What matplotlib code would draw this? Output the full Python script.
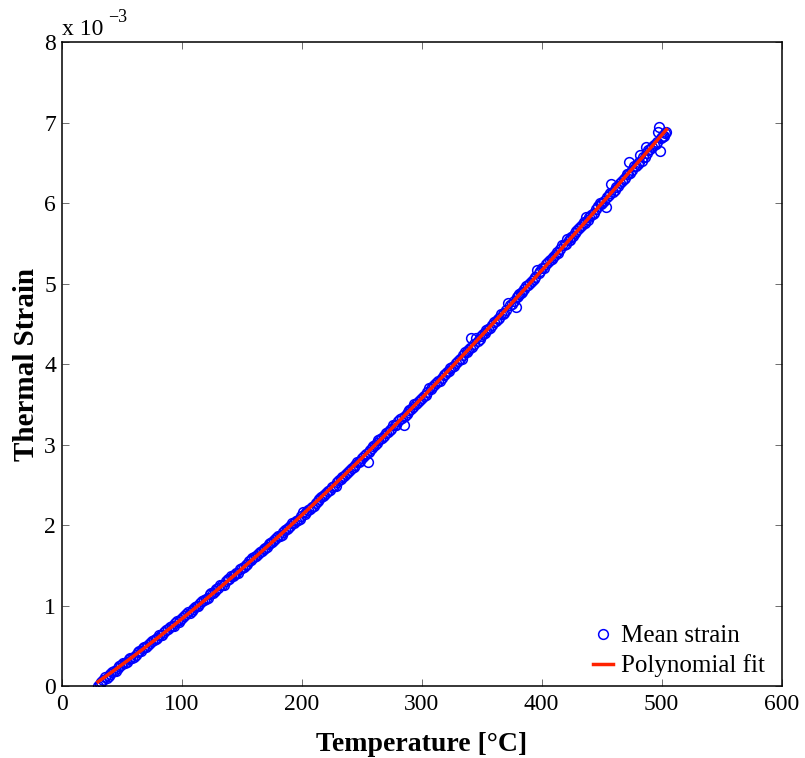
import numpy as np
import matplotlib
matplotlib.use("Agg")
import matplotlib.pyplot as plt

plt.rcParams['font.family'] = ['Liberation Serif', 'DejaVu Serif']
plt.rcParams['mathtext.default'] = 'regular'

# temperatura [°C] y deformacion termica media (en unidades de 1e-3)
# primera serie de lecturas
temperature_a = [
    30.3, 33.0, 36.2, 39.1, 42.0, 45.3, 48.1, 51.2, 54.4, 57.3,
    60.1, 63.4, 66.2, 69.0, 72.3, 75.1, 78.4, 81.2, 84.0, 87.3,
    90.1, 93.4, 96.2, 99.0, 102.3, 105.1, 108.4, 111.2, 114.0, 117.3,
    120.1, 123.4, 126.2, 129.0, 132.3, 135.1, 138.4, 141.2, 144.0, 147.3,
    150.1, 153.4, 156.2, 159.0, 162.3, 165.1, 168.4, 171.2, 174.0, 177.3,
    180.1, 183.4, 186.2, 189.0, 192.3, 195.1, 198.4, 201.2, 204.0, 207.3,
    210.1, 213.4, 216.2, 219.0, 222.3, 225.1, 228.4, 231.2, 234.0, 237.3,
    240.1, 243.4, 246.2, 249.0, 252.3, 255.1, 257.0, 258.4, 261.2, 264.0,
    267.3, 270.1, 273.4, 276.2, 279.0, 282.3, 285.1, 286.5, 288.4, 291.2,
    294.0, 297.3, 300.1, 303.4, 306.2, 309.0, 312.3, 315.1, 318.4, 321.2,
    324.0, 327.3, 330.1, 333.4, 336.2, 339.0, 341.5, 342.3, 345.1, 348.4,
    351.2, 354.0, 357.3, 360.1, 363.4, 366.2, 369.0, 372.3, 375.1, 378.4,
    379.5, 381.2, 384.0, 387.3, 390.1, 393.4, 396.2, 399.0, 402.3, 405.1,
    408.4, 411.2, 414.0, 417.3, 420.1, 421.5, 423.4, 426.2, 429.0, 432.3,
    435.1, 437.0, 438.4, 441.2, 444.0, 447.3, 448.5, 450.1, 453.4, 454.5,
    457.0, 458.2, 459.5, 462.3, 465.1, 468.4, 471.2, 473.0, 474.0, 477.3,
    480.1, 482.0, 483.4, 486.2, 487.3, 489.0, 492.3, 495.1, 497.0, 498.0,
    498.5, 500.0, 502.0, 504.0,
]
strain_a = [
    0.00, 0.05, 0.11, 0.12, 0.17, 0.19, 0.25, 0.28, 0.30, 0.35,
    0.36, 0.42, 0.44, 0.49, 0.51, 0.56, 0.58, 0.63, 0.64, 0.70,
    0.73, 0.75, 0.81, 0.82, 0.87, 0.92, 0.93, 0.98, 1.00, 1.06,
    1.08, 1.14, 1.15, 1.21, 1.25, 1.26, 1.33, 1.37, 1.38, 1.41,
    1.47, 1.50, 1.55, 1.59, 1.61, 1.67, 1.70, 1.73, 1.78, 1.81,
    1.86, 1.88, 1.94, 1.96, 2.02, 2.05, 2.08, 2.16, 2.16, 2.20,
    2.24, 2.30, 2.35, 2.37, 2.42, 2.47, 2.49, 2.56, 2.60, 2.63,
    2.69, 2.72, 2.78, 2.80, 2.86, 2.78, 2.93, 2.96, 3.00, 3.06,
    3.08, 3.14, 3.18, 3.24, 3.25, 3.32, 3.24, 3.36, 3.40, 3.44,
    3.51, 3.53, 3.58, 3.62, 3.71, 3.72, 3.77, 3.79, 3.86, 3.90,
    3.95, 3.98, 4.04, 4.06, 4.15, 4.18, 4.32, 4.21, 4.33, 4.31,
    4.37, 4.43, 4.45, 4.53, 4.56, 4.62, 4.64, 4.76, 4.75, 4.71,
    4.84, 4.87, 4.90, 4.97, 5.01, 5.06, 5.17, 5.16, 5.20, 5.27,
    5.31, 5.36, 5.38, 5.48, 5.49, 5.56, 5.55, 5.60, 5.66, 5.71,
    5.77, 5.83, 5.79, 5.86, 5.88, 5.97, 6.00, 6.00, 5.95, 6.08,
    6.13, 6.24, 6.14, 6.20, 6.25, 6.30, 6.36, 6.51, 6.38, 6.46,
    6.49, 6.60, 6.53, 6.58, 6.70, 6.66, 6.70, 6.74, 6.89, 6.95,
    6.65, 6.82, 6.84, 6.89,
]
# segunda serie de lecturas (intercaladas)
temperature_b = [
    31.6, 34.6, 37.7, 40.5, 43.6, 46.7, 49.6, 52.8, 55.8, 58.7,
    61.7, 64.8, 67.6, 70.6, 73.7, 76.7, 79.8, 82.6, 85.6, 88.7,
    91.7, 94.8, 97.6, 100.6, 103.7, 106.7, 109.8, 112.6, 115.6, 118.7,
    121.7, 124.8, 127.6, 130.6, 133.7, 136.7, 139.8, 142.6, 145.6, 148.7,
    151.7, 154.8, 157.6, 160.6, 163.7, 166.7, 169.8, 172.6, 175.6, 178.7,
    181.7, 184.8, 187.6, 190.6, 193.7, 196.7, 199.8, 202.6, 205.6, 208.7,
    211.7, 214.8, 217.6, 220.6, 223.7, 226.7, 229.8, 232.6, 235.6, 238.7,
    241.7, 244.8, 247.6, 250.6, 253.7, 256.0, 259.8, 262.6, 265.6, 268.7,
    271.7, 274.8, 277.6, 280.6, 283.7, 287.4, 289.8, 292.6, 295.6, 298.7,
    301.7, 304.8, 307.6, 310.6, 313.7, 316.7, 319.8, 322.6, 325.6, 328.7,
    331.7, 334.8, 337.6, 340.4, 343.7, 346.7, 349.8, 352.6, 355.6, 358.7,
    361.7, 364.8, 367.6, 370.6, 373.7, 376.7, 380.4, 382.6, 385.6, 388.7,
    391.7, 394.8, 397.6, 400.6, 403.7, 406.7, 409.8, 412.6, 415.6, 418.7,
    422.4, 424.8, 427.6, 430.6, 433.7, 436.0, 439.8, 442.6, 445.6, 449.3,
    451.7, 456.0, 460.8, 463.7, 466.7, 469.8, 472.3, 475.6, 478.7, 481.2,
    484.8, 488.2, 490.6, 493.7, 496.0, 499.2, 501.0, 503.0,
]
strain_b = [
    0.03, 0.08, 0.10, 0.15, 0.19, 0.22, 0.26, 0.29, 0.33, 0.35,
    0.39, 0.43, 0.47, 0.49, 0.54, 0.57, 0.60, 0.64, 0.67, 0.71,
    0.74, 0.78, 0.80, 0.85, 0.89, 0.91, 0.96, 0.99, 1.03, 1.07,
    1.10, 1.15, 1.18, 1.22, 1.26, 1.30, 1.33, 1.37, 1.40, 1.45,
    1.48, 1.52, 1.56, 1.60, 1.64, 1.68, 1.71, 1.76, 1.79, 1.84,
    1.87, 1.91, 1.95, 1.99, 2.03, 2.06, 2.11, 2.14, 2.19, 2.23,
    2.27, 2.32, 2.36, 2.40, 2.44, 2.48, 2.53, 2.57, 2.61, 2.66,
    2.71, 2.75, 2.79, 2.84, 2.89, 2.91, 2.98, 3.02, 3.07, 3.11,
    3.16, 3.20, 3.24, 3.29, 3.33, 3.38, 3.43, 3.47, 3.51, 3.56,
    3.61, 3.65, 3.69, 3.74, 3.79, 3.83, 3.88, 3.92, 3.96, 4.01,
    4.06, 4.11, 4.15, 4.20, 4.25, 4.29, 4.35, 4.39, 4.44, 4.49,
    4.54, 4.58, 4.63, 4.68, 4.73, 4.79, 4.85, 4.88, 4.94, 4.99,
    5.04, 5.09, 5.14, 5.19, 5.24, 5.29, 5.33, 5.39, 5.43, 5.48,
    5.54, 5.58, 5.63, 5.68, 5.73, 5.76, 5.83, 5.87, 5.93, 5.99,
    6.03, 6.10, 6.17, 6.22, 6.28, 6.32, 6.37, 6.42, 6.47, 6.51,
    6.57, 6.63, 6.67, 6.72, 6.76, 6.81, 6.84, 6.87,
]

x_ticks = [0, 100, 200, 300, 400, 500, 600]
y_ticks = [0, 1, 2, 3, 4, 5, 6, 7, 8]

T = np.array(temperature_a + temperature_b)
eps = np.array(strain_a + strain_b)

# ajuste polinomial de los datos
coef = np.polyfit(T, eps, 3)
T_fit = np.linspace(T.min(), T.max(), 300)
eps_fit = np.polyval(coef, T_fit)

fig = plt.figure(figsize=(8.05, 7.58), dpi=100)
ax = fig.add_axes([0.0766, 0.095, 0.8944, 0.849])

ax.plot(T, eps, 'o', mfc='none', mec='#0000ff', ms=7, mew=1.1, label='Mean strain')
ax.plot(T_fit, eps_fit, '-', color='#ff2200', lw=2.5, label='Polynomial fit')

ax.set_xlim(0, 600)
ax.set_ylim(0, 8)
ax.set_xticks(x_ticks)
ax.set_yticks(y_ticks)
ax.tick_params(direction='in', top=True, right=True, length=5, width=0.6,
               color='#555555', labelsize=17)
ax.tick_params(axis='x', pad=6)
ax.tick_params(axis='y', pad=4)
for s in ax.spines.values():
    s.set_linewidth(1.1)

ax.set_xlabel('Temperature [°C]', fontsize=20, fontweight='bold', labelpad=12)
ax.set_ylabel('Thermal Strain', fontsize=21, fontweight='bold', labelpad=3)
ax.text(0.0, 1.0117, 'x 10', transform=ax.transAxes, fontsize=17,
        ha='left', va='baseline')
ax.text(0.064, 1.032, '\u22123', transform=ax.transAxes, fontsize=13,
        ha='left', va='baseline')

ax.legend(loc='lower right', bbox_to_anchor=(0.993, -0.004), frameon=False,
          fontsize=18, handlelength=0.8, handletextpad=0.35,
          labelspacing=0.28, borderaxespad=0.05)

fig.savefig('out.png', dpi=100)
